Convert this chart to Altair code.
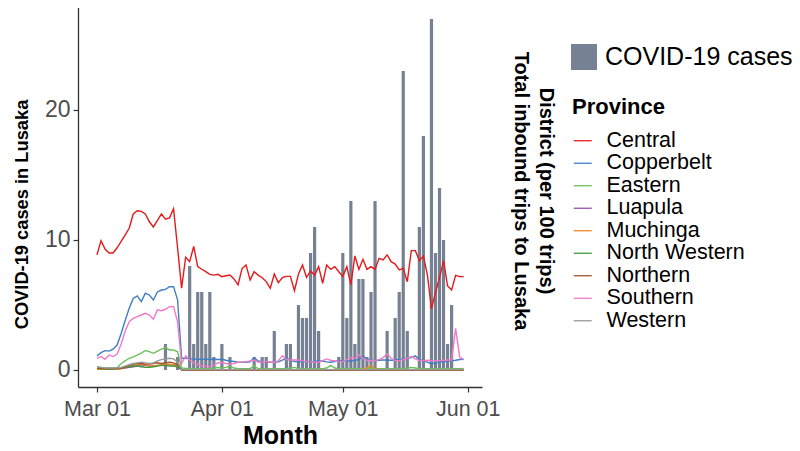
import altair as alt
import pandas as pd

FONT = "Liberation Sans"

# ---------------- data ----------------
provinces = ["Central", "Copperbelt", "Eastern", "Luapula", "Muchinga",
             "North Western", "Northern", "Southern", "Western"]
province_colors = ["#E41A1C", "#3F7FC4", "#6DBF5A", "#9A4FB0", "#F28A1E",
                   "#3A9A3A", "#A0522D", "#F07AC8", "#999999"]

days = pd.date_range("2020-03-01", "2020-05-31", freq="D").strftime("%Y-%m-%d").tolist()

central = [8.85, 9.95, 9.3, 9.0, 9.0, 9.4, 9.9, 10.4, 10.9, 12.0,
           12.25, 12.2, 12.0, 11.4, 11.0, 11.5, 12.0, 11.6, 11.7, 12.4,
           9.4, 6.3, 8.67, 8.33, 9.5, 7.95, 7.75, 7.56, 7.35, 7.3,
           7.36, 7.18, 7.25, 7.3, 7.0, 6.55, 7.8, 8.08, 6.92, 7.56,
           7.3, 7.1, 6.8, 6.28, 7.38, 6.72, 7.1, 7.2, 7.2, 6.1,
           7.38, 8.08, 7.13, 7.6, 7.3, 7.95, 6.67, 8.08, 7.74, 7.95,
           7.56, 7.2, 7.95, 6.54, 8.77, 7.74, 8.51, 7.74, 7.95, 7.74,
           8.59, 8.46, 8.85, 8.33, 8.15, 7.7, 7.82, 6.79, 9.18, 9.18,
           8.41, 8.77, 7.3, 4.7, 5.95, 7.1, 8.41, 6.46, 6.15, 7.28,
           7.18, 7.18]
copperbelt = [1.08, 1.33, 1.49, 1.45, 1.6, 1.92, 2.8, 3.8, 4.74, 5.5,
              5.7, 5.26, 5.9, 5.77, 5.38, 6.0, 6.15, 6.2, 6.4, 6.41,
              5.4, 0.9, 0.9, 0.85, 0.85, 0.82, 0.82, 0.82, 0.8, 0.82,
              0.8, 0.82, 0.75, 0.69, 0.65, 0.59, 0.6, 0.59, 0.62, 0.95,
              0.69, 0.64, 0.6, 0.59, 0.59, 0.62, 0.75, 0.9, 0.75, 0.64,
              0.64, 0.62, 0.64, 0.64, 0.66, 0.69, 0.69, 0.62, 0.59, 0.65,
              0.69, 0.7, 0.7, 0.69, 0.75, 0.8, 1.08, 0.8, 0.75, 0.72,
              0.75, 0.77, 0.77, 0.75, 0.77, 0.8, 0.85, 0.9, 0.95, 1.08,
              0.8, 0.7, 0.6, 0.46, 0.55, 0.6, 0.65, 0.68, 0.72, 0.75,
              0.8, 0.82]
eastern = [0.26, 0.2, 0.15, 0.15, 0.15, 0.15, 0.5, 0.7, 0.9, 1.0,
           1.15, 1.3, 1.5, 1.41, 1.28, 1.45, 1.6, 1.72, 1.54, 1.54,
           1.4, 0.15, 0.12, 0.12, 0.1, 0.1, 0.1, 0.1, 0.1, 0.15,
           0.2, 0.15, 0.2, 0.3, 0.15, 0.1, 0.1, 0.1, 0.1, 0.3,
           0.1, 0.1, 0.1, 0.1, 0.1, 0.1, 0.1, 0.1, 0.15, 0.2,
           0.1, 0.1, 0.1, 0.1, 0.1, 0.1, 0.1, 0.15, 0.35, 0.15,
           0.1, 0.1, 0.1, 0.1, 0.1, 0.1, 0.1, 0.1, 0.15, 0.1,
           0.1, 0.1, 0.1, 0.1, 0.1, 0.1, 0.1, 0.15, 0.2, 0.15,
           0.1, 0.1, 0.1, 0.1, 0.1, 0.1, 0.1, 0.1, 0.1, 0.1,
           0.1, 0.1]
luapula = [0.05, 0.05, 0.05, 0.05, 0.05, 0.05, 0.1, 0.15, 0.2, 0.25,
           0.3, 0.3, 0.35, 0.3, 0.3, 0.35, 0.35, 0.4, 0.4, 0.4,
           0.3, 0.03, 0.02, 0.02, 0.03, 0.02, 0.02, 0.03, 0.02, 0.02,
           0.02, 0.03, 0.02, 0.02, 0.02, 0.03, 0.02, 0.02, 0.02, 0.02,
           0.02, 0.02, 0.03, 0.02, 0.02, 0.02, 0.02, 0.03, 0.02, 0.02,
           0.02, 0.02, 0.02, 0.02, 0.03, 0.02, 0.02, 0.02, 0.02, 0.02,
           0.02, 0.03, 0.02, 0.02, 0.02, 0.02, 0.02, 0.02, 0.03, 0.02,
           0.02, 0.02, 0.02, 0.02, 0.02, 0.02, 0.03, 0.02, 0.02, 0.02,
           0.02, 0.02, 0.02, 0.02, 0.02, 0.02, 0.02, 0.03, 0.02, 0.02,
           0.02, 0.02]
muchinga = [0.05, 0.05, 0.05, 0.05, 0.05, 0.05, 0.1, 0.2, 0.3, 0.35,
            0.4, 0.45, 0.4, 0.3, 0.3, 0.35, 0.4, 0.45, 0.45, 0.4,
            0.3, 0.01, 0.01, 0.01, 0.01, 0.01, 0.01, 0.01, 0.01, 0.01,
            0.01, 0.01, 0.01, 0.01, 0.01, 0.01, 0.01, 0.01, 0.01, 0.01,
            0.01, 0.01, 0.01, 0.01, 0.01, 0.01, 0.01, 0.01, 0.01, 0.01,
            0.01, 0.01, 0.01, 0.01, 0.01, 0.01, 0.01, 0.01, 0.01, 0.01,
            0.01, 0.01, 0.01, 0.01, 0.01, 0.01, 0.05, 0.15, 0.38, 0.1,
            0.01, 0.01, 0.01, 0.01, 0.01, 0.01, 0.01, 0.01, 0.01, 0.01,
            0.01, 0.01, 0.01, 0.01, 0.01, 0.01, 0.01, 0.01, 0.01, 0.01,
            0.01, 0.01]
north_western = [0.1, 0.1, 0.08, 0.08, 0.08, 0.1, 0.15, 0.2, 0.25, 0.3,
                 0.3, 0.25, 0.2, 0.2, 0.25, 0.3, 0.35, 0.35, 0.3, 0.3,
                 0.25, 0.03, 0.03, 0.03, 0.03, 0.03, 0.03, 0.03, 0.03, 0.03,
                 0.03, 0.03, 0.03, 0.03, 0.03, 0.03, 0.03, 0.03, 0.03, 0.03,
                 0.03, 0.03, 0.03, 0.03, 0.03, 0.03, 0.03, 0.03, 0.03, 0.03,
                 0.03, 0.03, 0.03, 0.03, 0.03, 0.03, 0.03, 0.03, 0.03, 0.03,
                 0.03, 0.03, 0.03, 0.03, 0.03, 0.03, 0.03, 0.03, 0.03, 0.03,
                 0.03, 0.03, 0.03, 0.03, 0.03, 0.03, 0.03, 0.03, 0.03, 0.03,
                 0.03, 0.03, 0.03, 0.03, 0.03, 0.03, 0.03, 0.03, 0.03, 0.03,
                 0.03, 0.03]
northern = [0.15, 0.12, 0.1, 0.1, 0.1, 0.1, 0.15, 0.25, 0.35, 0.45,
            0.5, 0.5, 0.45, 0.45, 0.5, 0.55, 0.5, 0.55, 0.6, 0.55,
            0.4, 0.0, 0.0, 0.0, 0.0, 0.0, 0.0, 0.0, 0.0, 0.0,
            0.0, 0.0, 0.0, 0.0, 0.0, 0.0, 0.0, 0.0, 0.0, 0.0,
            0.0, 0.0, 0.0, 0.0, 0.0, 0.0, 0.0, 0.0, 0.0, 0.0,
            0.0, 0.0, 0.0, 0.0, 0.0, 0.0, 0.0, 0.0, 0.0, 0.0,
            0.0, 0.0, 0.0, 0.0, 0.0, 0.0, 0.0, 0.0, 0.0, 0.0,
            0.0, 0.0, 0.0, 0.0, 0.0, 0.0, 0.0, 0.0, 0.0, 0.0,
            0.0, 0.0, 0.0, 0.0, 0.0, 0.0, 0.0, 0.0, 0.0, 0.0,
            0.0, 0.0]
southern = [0.9, 1.03, 0.82, 1.15, 1.03, 1.23, 2.0, 3.0, 3.72, 3.97,
            4.1, 4.23, 4.36, 4.23, 3.9, 4.62, 4.56, 4.67, 4.87, 4.87,
            3.7, 0.5, 1.08, 0.77, 0.55, 0.45, 0.3, 0.28, 0.26, 0.38,
            0.55, 0.55, 0.5, 0.45, 0.5, 0.59, 0.6, 0.62, 0.7, 0.77,
            0.6, 0.62, 0.64, 0.6, 0.59, 0.7, 1.1, 0.8, 0.77, 0.77,
            0.77, 0.7, 0.64, 0.62, 0.6, 0.6, 0.72, 0.85, 0.75, 0.69,
            0.66, 0.64, 0.8, 0.95, 0.9, 1.15, 0.9, 0.75, 0.72, 0.72,
            0.8, 0.95, 1.23, 0.9, 0.72, 0.72, 0.8, 0.9, 1.03, 0.85,
            0.72, 0.72, 0.75, 0.72, 0.72, 0.72, 0.75, 0.77, 0.77, 3.2,
            1.0, 0.8]
western = [0.2, 0.2, 0.15, 0.15, 0.15, 0.15, 0.2, 0.3, 0.4, 0.5,
           0.55, 0.6, 0.55, 0.5, 0.55, 0.7, 0.8, 0.85, 0.9, 0.85,
           0.6, 0.04, 0.03, 0.03, 0.04, 0.03, 0.03, 0.04, 0.03, 0.03,
           0.04, 0.03, 0.03, 0.04, 0.03, 0.03, 0.04, 0.03, 0.03, 0.04,
           0.03, 0.03, 0.04, 0.03, 0.03, 0.04, 0.03, 0.03, 0.04, 0.03,
           0.03, 0.04, 0.03, 0.03, 0.04, 0.03, 0.03, 0.04, 0.03, 0.03,
           0.04, 0.03, 0.03, 0.04, 0.03, 0.03, 0.04, 0.03, 0.03, 0.04,
           0.03, 0.03, 0.04, 0.03, 0.03, 0.04, 0.03, 0.03, 0.04, 0.03,
           0.03, 0.04, 0.03, 0.03, 0.04, 0.03, 0.03, 0.04, 0.03, 0.03,
           0.04, 0.03]

series = [central, copperbelt, eastern, luapula, muchinga,
          north_western, northern, southern, western]

case_dates = ["2020-03-18", "2020-03-21", "2020-03-24", "2020-03-25", "2020-03-26",
              "2020-03-27", "2020-03-28", "2020-03-29", "2020-03-30", "2020-04-01",
              "2020-04-03", "2020-04-09", "2020-04-11", "2020-04-12", "2020-04-14",
              "2020-04-17", "2020-04-18", "2020-04-20", "2020-04-21", "2020-04-22",
              "2020-04-23", "2020-04-24", "2020-04-25", "2020-04-30", "2020-05-01",
              "2020-05-02", "2020-05-03", "2020-05-04", "2020-05-05", "2020-05-06",
              "2020-05-07", "2020-05-08", "2020-05-09", "2020-05-12", "2020-05-14",
              "2020-05-15", "2020-05-16", "2020-05-17", "2020-05-20", "2020-05-21",
              "2020-05-23", "2020-05-24", "2020-05-25", "2020-05-26", "2020-05-27",
              "2020-05-28"]
cases = [2, 1, 8, 2, 6, 6, 2, 6, 1, 2,
         1, 1, 1, 1, 3, 2, 2, 5, 4, 4,
         9, 11, 3, 1, 9, 4, 13, 2, 7, 7,
         1, 6, 13, 3, 4, 6, 23, 3, 11, 18,
         27, 9, 14, 10, 2, 5]

# ---------------- tables ----------------
rows = []
for prov, vals in zip(provinces, series):
    for d, v in zip(days, vals):
        rows.append({"date": d, "value": v, "province": prov})
lines_df = pd.DataFrame(rows)
bars_df = pd.DataFrame({"date": case_dates, "cases": cases, "label": "COVID-19 cases"})

# ---------------- chart ----------------
W, H = 404, 384
x_scale = alt.Scale(type="utc", nice=False, padding=0, domain=[
    alt.DateTime(year=2020, month=2, date=25, hours=7, utc=True),
    alt.DateTime(year=2020, month=6, date=4, hours=13, utc=True)])
y_scale = alt.Scale(domain=[-1.31, 28.23], nice=False, zero=False, padding=0)

x_axis = alt.Axis(
    values=[alt.DateTime(year=2020, month=m, date=1, utc=True) for m in (3, 4, 5, 6)],
    format="%b %d", title="Month", grid=False,
    labelFontSize=21.5, labelColor="#4D4D4D", labelPadding=6, labelFont=FONT,
    tickSize=5, tickColor="#333333", tickWidth=1.2,
    domainColor="#333333", domainWidth=1.3,
    titleFontSize=25, titleFont=FONT, titleFontWeight="bold", titleColor="black",
    titlePadding=4)
y_axis = alt.Axis(
    values=[0, 10, 20], title="COVID-19 cases in Lusaka", grid=False,
    labelFontSize=23, labelColor="#4D4D4D", labelPadding=3, labelFont=FONT,
    tickSize=5, tickColor="#333333", tickWidth=1.2,
    domainColor="#333333", domainWidth=1.3,
    titleFontSize=18.3, titleFont=FONT, titleFontWeight="bold", titleColor="black",
    titleAngle=270, titleX=-51, titleY=211, titleAlign="center",
    titleBaseline="alphabetic")

bars = alt.Chart(bars_df).mark_bar(size=3.2).encode(
    x=alt.X("date:T", scale=x_scale, axis=x_axis),
    y=alt.Y("cases:Q", scale=y_scale, axis=y_axis),
    fill=alt.Fill("label:N", title=None,
                  scale=alt.Scale(domain=["COVID-19 cases"], range=["#768293"]),
                  legend=alt.Legend(orient="none", legendX=493, legendY=41,
                                    symbolType="square", symbolSize=676,
                                    symbolStrokeWidth=0, labelFontSize=25,
                                    labelFont=FONT, labelColor="black",
                                    labelOffset=8, labelLimit=0, padding=0)),
)

lines = alt.Chart(lines_df).mark_line(strokeWidth=1.4).encode(
    x=alt.X("date:T", scale=x_scale, axis=x_axis),
    y=alt.Y("value:Q", scale=y_scale, axis=y_axis),
    color=alt.Color("province:N", title="Province",
                    scale=alt.Scale(domain=provinces, range=province_colors),
                    legend=alt.Legend(orient="none", legendX=494, legendY=94,
                                      symbolType="stroke", symbolSize=324,
                                      symbolStrokeWidth=1.3,
                                      labelFontSize=21.5, labelFont=FONT,
                                      labelColor="black", labelOffset=13,
                                      labelLimit=0,
                                      titleFontSize=22, titleFont=FONT,
                                      titleFontWeight="bold", titleColor="black",
                                      titlePadding=11, rowPadding=-0.5, padding=0)),
    detail="province:N",
)

title1 = alt.Chart(pd.DataFrame({"t": ["Total inbound trips to Lusaka"]})).mark_text(
    angle=90, align="center", baseline="middle", font=FONT, fontSize=20,
    fontWeight="bold", color="black").encode(
    text="t:N", x=alt.value(443), y=alt.value(188))
title2 = alt.Chart(pd.DataFrame({"t": ["District (per 100 trips)"]})).mark_text(
    angle=90, align="center", baseline="middle", font=FONT, fontSize=20,
    fontWeight="bold", color="black").encode(
    text="t:N", x=alt.value(468), y=alt.value(188))

chart = alt.layer(bars, lines, title1, title2).properties(
    width=W, height=H,
    autosize=alt.AutoSizeParams(type="none"),
    padding={"left": 70, "top": -5, "right": 310, "bottom": 64},
    background="white",
).configure_view(stroke=None)

chart.save("out.html", embed_options={"renderer": "svg", "actions": False})
